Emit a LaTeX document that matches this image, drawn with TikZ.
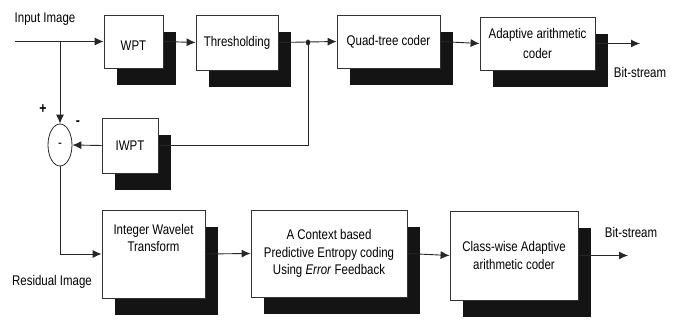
\documentclass[tikz,border=0pt]{standalone}
\usepackage{fontspec}
\setmainfont{Liberation Sans}[FakeStretch=0.82]
\usetikzlibrary{arrows.meta,shapes.geometric,shadows}
\begin{document}
\begin{tikzpicture}[x=1pt,y=-1pt,
  every node/.style={font=\fontsize{14}{17.5}\selectfont, text=black},
  blk/.style={draw=black!80, line width=0.8pt, fill=white, inner sep=0pt, align=center,
    drop shadow={shadow xshift=13pt, shadow yshift=-17pt, fill=black!92, opacity=1}},
  conn/.style={draw=black!85, line width=0.9pt},
  arr/.style={conn, -{Latex[length=9pt,width=8pt]}},
  lbl/.style={inner sep=0pt}
]
\useasboundingbox (0,0) rectangle (683,320);
% top row boxes
\node[blk, minimum width=59pt, minimum height=53pt] (wpt) at (133.5,41.5) {};
\node[lbl] at ([yshift=-4pt]wpt.center) {WPT};
\node[blk, minimum width=82pt, minimum height=55pt] (thr) at (237,42.5) {Thresholding};
\node[blk, minimum width=103pt, minimum height=53pt] (qt) at (388.5,41.5) {Quad-tree coder};
\node[blk, minimum width=115pt, minimum height=53pt] (aac) at (537.5,43.5) {Adaptive arithmetic\\[2pt]coder};
% feedback
\node[blk, minimum width=56pt, minimum height=55pt] (iwpt) at (130,145.5) {IWPT};
\node[draw=black!85, line width=0.8pt, ellipse, minimum width=24pt, minimum height=42pt, inner sep=0pt, fill=white] (sum) at (60,145) {-};
% bottom row boxes
\node[blk, minimum width=103pt, minimum height=88pt] (iwt) at (153.5,254) {};
\node[lbl, align=center] at ([yshift=16pt]iwt.center) {Integer Wavelet\\Transform};
\node[blk, minimum width=156pt, minimum height=87pt] (ctx) at (329,253.5) {A Context based\\Predictive Entropy coding\\Using \textit{Error} Feedback};
\node[blk, minimum width=128pt, minimum height=89pt] (cls) at (514,255.5) {Class-wise Adaptive\\arithmetic coder};
% coordinates
\coordinate (in) at (15,41.5);
\coordinate (br) at (60,41.5);
\coordinate (j) at (308,42.5);
\coordinate (o1) at (640,43.5);
\coordinate (o2) at (628,255.5);
% connectors
\draw[arr] (in) -- (wpt.west);
\draw[arr] (br) -- (sum.north);
\draw[arr] (wpt.east) -- (thr.west);
\draw[arr] (thr.east) -- (qt.west);
\draw[arr] (qt.east) -- (aac.west);
\draw[arr] (aac.east) -- (o1);
\draw[conn] (j) |- (iwpt.east);
\fill[black!85] (j) ellipse (2.2pt and 3pt);
\draw[arr] (iwpt.west) -- (sum.east);
\draw[arr] (sum.south) |- (iwt.west);
\draw[arr] (iwt.east) -- (ctx.west);
\draw[arr] (ctx.east) -- (cls.west);
\draw[arr] (cls.east) -- (o2);
% labels
\node[lbl] (linput) at (45,19) {Input Image};
\node[lbl, font=\fontsize{15}{15}\selectfont\bfseries] (lplus) at (43,109) {+};
\node[lbl, font=\fontsize{15}{15}\selectfont\bfseries] (lminus) at (78,123) {-};
\node[lbl] (lbit1) at (640,72) {Bit-stream};
\node[lbl] (lbit2) at (631,232) {Bit-stream};
\node[lbl] (lres) at (52,282) {Residual Image};
\end{tikzpicture}
\end{document}
